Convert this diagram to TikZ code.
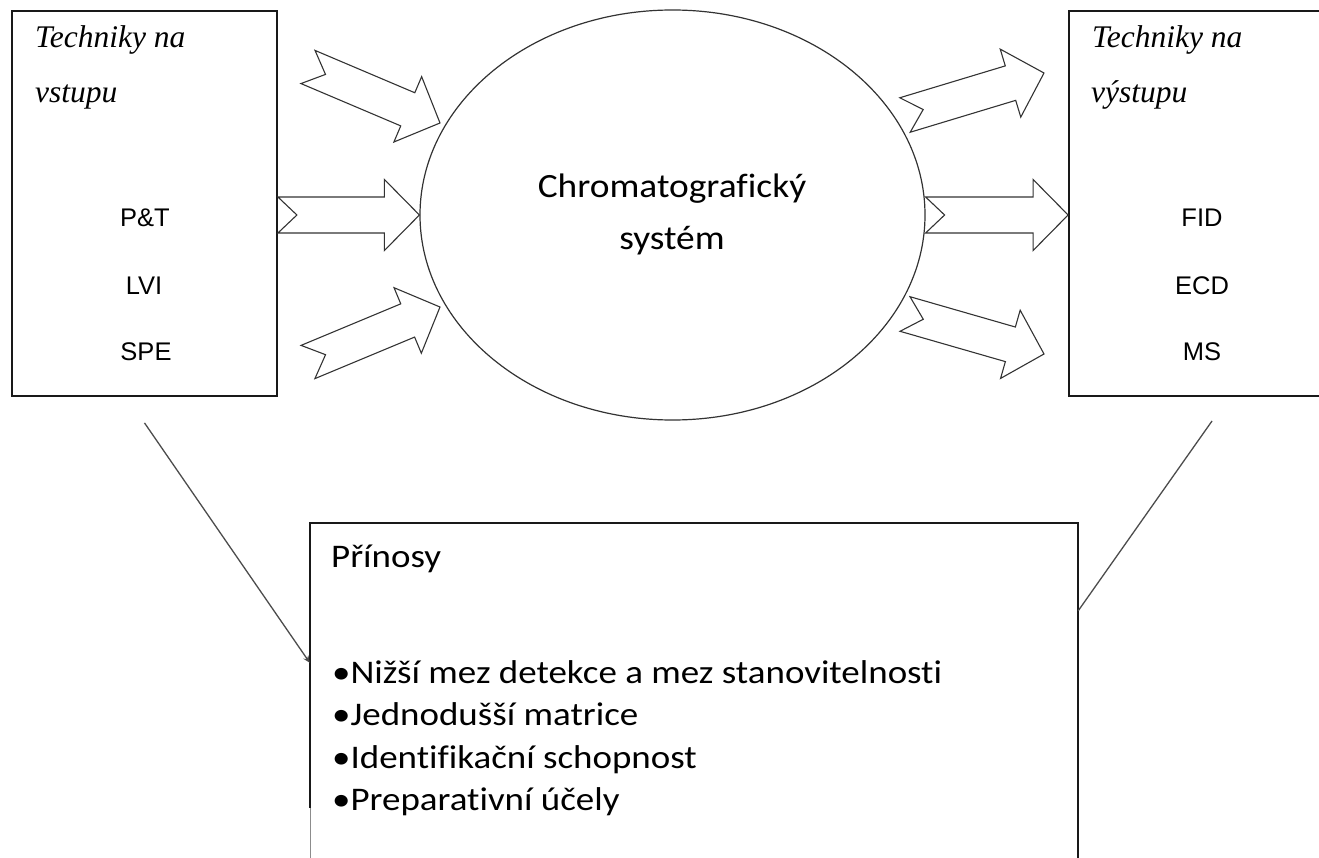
\documentclass[tikz,border=0pt]{standalone}
\usepackage{fontspec}
\setmainfont{Liberation Serif}
\newfontfamily\calibfont[FakeStretch=1.1,Ligatures=NoCommon]{Carlito}
\newfontfamily\calibwide[FakeStretch=1.12,Ligatures=NoCommon]{Carlito}
\newfontfamily\detfont{Liberation Sans}
\usetikzlibrary{shapes.geometric,arrows.meta,calc}

% Hollow block arrow with a notched tail, drawn from coordinate #1 (tail) to #2 (tip)
\newcommand\blockarrow[2]{%
  \path let \p1=(#1), \p2=(#2),
            \n1={atan2(\y2-\y1,\x2-\x1)},
            \n2={veclen(\x2-\x1,\y2-\y1)} in
    \pgfextra{\xdef\baangle{\n1}\xdef\balen{\n2}};
  \draw[blockarr,shift={(#1)},rotate=\baangle]
    (0,18) -- ({\balen-35},18) -- ({\balen-35},35.5) -- (\balen,0)
    -- ({\balen-35},-35.5) -- ({\balen-35},-18) -- (0,-18) -- (19,0) -- cycle;
}

\begin{document}
\begin{tikzpicture}[x=1pt,y=-1pt,
  frame/.style={draw=black!90,line width=1.8pt,inner sep=0pt},
  sysoval/.style={ellipse,draw=black!80,line width=1.2pt,inner sep=0pt,
                  minimum width=505pt,minimum height=410pt},
  blockarr/.style={draw=black!80,line width=1.1pt,line join=miter},
  headline/.style={font=\fontsize{31.5}{31.5}\selectfont\itshape,anchor=base west,inner sep=0pt},
  tech/.style={font=\detfont\fontsize{25.5}{25.5}\selectfont,anchor=base,inner sep=0pt},
  systext/.style={font=\calibfont\fontsize{34}{34}\selectfont,anchor=base,inner sep=0pt},
  bentext/.style={font=\calibwide\fontsize{33}{33}\selectfont,anchor=base west,inner sep=0pt},
  link/.style={draw=black!70,line width=1.3pt},
]
\useasboundingbox (0,0) rectangle (1319,858);
\clip (0,0) rectangle (1319,858);

% input techniques, chromatographic system, output techniques
\node[frame,minimum width=265pt,minimum height=385pt] (inbox) at (144.5,203.5) {};
\node[frame,minimum width=300pt,minimum height=385pt] (outbox) at (1219,203.5) {};
\node[sysoval] (sys) at (672.5,215) {};

\node[headline] (intitle1) at (35,48) {Techniky na};
\node[headline] (intitle2) at (35,103) {vstupu};
\node[headline] (outtitle1) at (1092,48) {Techniky na};
\node[headline] (outtitle2) at (1091,103) {výstupu};

\node[tech] (pt)  at (145,227) {P\&T};
\node[tech] (lvi) at (144,295) {LVI};
\node[tech] (spe) at (146,360) {SPE};
\node[tech] (fid) at (1202,227) {FID};
\node[tech] (ecd) at (1202,295) {ECD};
\node[tech] (ms)  at (1202,360) {MS};

\node[systext] (sysA) at (672,198) {Chromatografický};
\node[systext] (sysB) at (672,250) {systém};

% block arrows into and out of the system
\coordinate (inAtail) at (308,67);   \coordinate (inAtip) at (440,123);
\coordinate (inBtail) at (inbox.east |- sys.west);
\coordinate (inCtail) at (308,362);  \coordinate (inCtip) at (440,307);
\coordinate (outAtail) at (905,115); \coordinate (outAtip) at (1044,73);
\coordinate (outBtip) at (outbox.west |- sys.east);
\coordinate (outCtail) at (905,314); \coordinate (outCtip) at (1044,354);
\blockarrow{inAtail}{inAtip}
\blockarrow{inBtail}{sys.west}
\blockarrow{inCtail}{inCtip}
\blockarrow{outAtail}{outAtip}
\blockarrow{sys.east}{outBtip}
\blockarrow{outCtail}{outCtip}

% benefits box (open at the bottom)
\node[inner sep=0pt,minimum width=768pt,minimum height=377pt] (benefits) at (694,711.5) {};
\draw[frame] ([yshift=-285pt]benefits.north west) -- (benefits.north west)
  -- (benefits.north east) -- (benefits.south east);
\draw[draw=black!45,line width=0.8pt] ([xshift=1pt,yshift=-285pt]benefits.north west)
  -- ([xshift=1pt]benefits.south west);

\node[bentext] (ben0) at (331,567) {Přínosy};
\node[bentext] (ben1) at (332,683) {•Nižší mez detekce a mez stanovitelnosti};
\node[bentext] (ben2) at (332,725) {•Jednodušší matrice};
\node[bentext] (ben3) at (332,768) {•Identifikační schopnost};
\node[bentext] (ben4) at (332,810) {•Preparativní účely};

% links from both technique boxes to the benefits
\coordinate (inlink) at ([yshift=-26pt]inbox.south);
\coordinate (outlink) at (1212,421);
\draw[link,-{Stealth[length=7pt,width=6pt]}] (inlink) -- ([yshift=-140pt]benefits.north west);
\draw[link] (outlink) -- ([yshift=-88pt]benefits.north east);
\end{tikzpicture}
\end{document}
